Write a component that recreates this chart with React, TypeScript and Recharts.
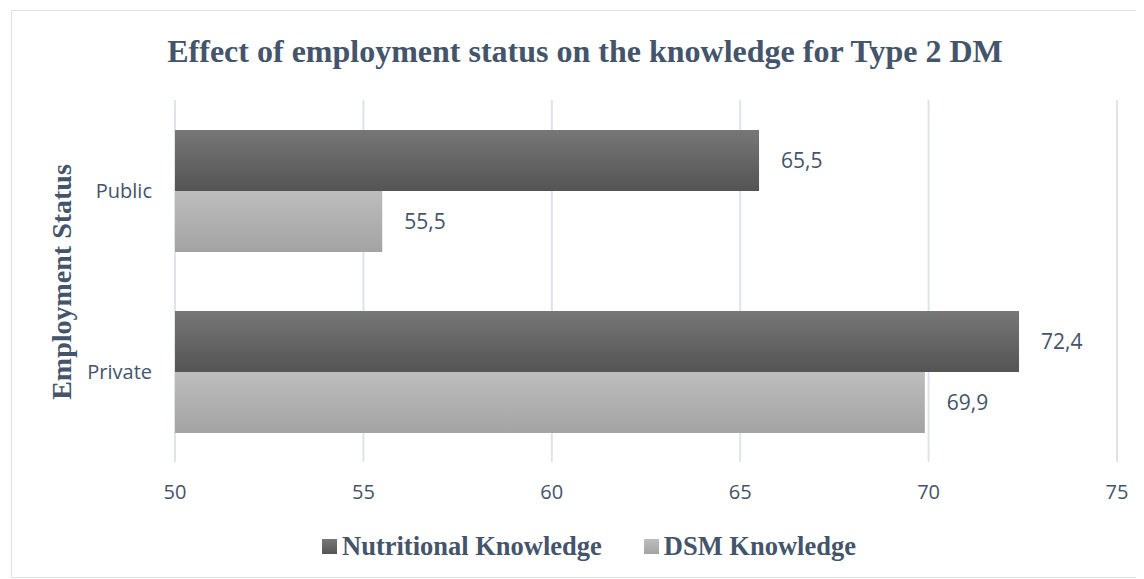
import { BarChart, Bar, XAxis, YAxis, CartesianGrid, Legend, LabelList } from 'recharts'

const categories = ['Public', 'Private']
const nutritional = [65.5, 72.4]
const dsm = [55.5, 69.9]
const xTicks = [50, 55, 60, 65, 70, 75]

const data = categories.map((name, i) => ({
  name,
  nutritional: nutritional[i],
  dsm: dsm[i],
}))

const TEXT = '#44546a'
const SERIF = '"Liberation Serif", "Times New Roman", serif'
const SANS = '"Open Sans", "Noto Sans", sans-serif'

const fmt = (v: unknown) => String(v).replace('.', ',')

const LegendContent = () => (
  <div style={{ display: 'flex', justifyContent: 'center', alignItems: 'center', fontFamily: SERIF, fontWeight: 700, fontSize: 26.5, color: TEXT, height: 30, paddingLeft: 6 }}>
    <span style={{ display: 'inline-block', width: 15, height: 15, background: 'linear-gradient(#777, #555)', marginRight: 5 }} />
    <span style={{ marginRight: 42 }}>Nutritional Knowledge</span>
    <span style={{ display: 'inline-block', width: 15, height: 15, background: 'linear-gradient(#bdbdbd, #a3a3a3)', marginRight: 5 }} />
    <span>DSM Knowledge</span>
  </div>
)

const App = () => {
  return (
    <div style={{ position: 'relative', margin: '2px 0 0 3px', width: 1133, height: 568, border: '1px solid #dde1e8', boxSizing: 'border-box' }}>
      <div style={{ position: 'absolute', left: 15, right: 0, top: 22, textAlign: 'center', fontFamily: SERIF, fontWeight: 700, fontSize: 32, color: TEXT }}>
        Effect of employment status on the knowledge for Type 2 DM
      </div>
      <div style={{ position: 'absolute', left: 50, top: 271, transform: 'translate(-50%, -50%) rotate(-90deg)', whiteSpace: 'nowrap', fontFamily: SERIF, fontWeight: 700, fontSize: 28, color: TEXT }}>
        Employment Status
      </div>
      <BarChart
        width={1131}
        height={566}
        data={data}
        layout="vertical"
        margin={{ top: 89, right: 26, left: 43, bottom: 55 }}
        barCategoryGap={30}
        barGap={0}
      >
        <defs>
          <linearGradient id="gradDark" x1="0" y1="0" x2="0" y2="1">
            <stop offset="0%" stopColor="#777777" />
            <stop offset="100%" stopColor="#545454" />
          </linearGradient>
          <linearGradient id="gradLight" x1="0" y1="0" x2="0" y2="1">
            <stop offset="0%" stopColor="#bdbdbd" />
            <stop offset="100%" stopColor="#a3a3a3" />
          </linearGradient>
        </defs>
        <CartesianGrid horizontal={false} stroke="#dfe3ea" strokeWidth={2} />
        <XAxis
          type="number"
          domain={[50, 75]}
          ticks={xTicks}
          axisLine={false}
          tickLine={false}
          tickMargin={17}
          tick={{ fill: TEXT, fontSize: 20, fontFamily: SANS }}
        />
        <YAxis
          type="category"
          dataKey="name"
          width={120}
          axisLine={false}
          tickLine={false}
          tickMargin={17}
          tick={{ fill: TEXT, fontSize: 20, fontFamily: SANS }}
        />
        <Legend verticalAlign="bottom" content={<LegendContent />} wrapperStyle={{ bottom: 16 }} />
        <Bar dataKey="nutritional" name="Nutritional Knowledge" fill="url(#gradDark)" isAnimationActive={false}>
          <LabelList dataKey="nutritional" position="right" offset={22} formatter={fmt} fill={TEXT} fontSize={21} fontFamily={SANS} />
        </Bar>
        <Bar dataKey="dsm" name="DSM Knowledge" fill="url(#gradLight)" isAnimationActive={false}>
          <LabelList dataKey="dsm" position="right" offset={22} formatter={fmt} fill={TEXT} fontSize={21} fontFamily={SANS} />
        </Bar>
      </BarChart>
    </div>
  )
}

export default App
